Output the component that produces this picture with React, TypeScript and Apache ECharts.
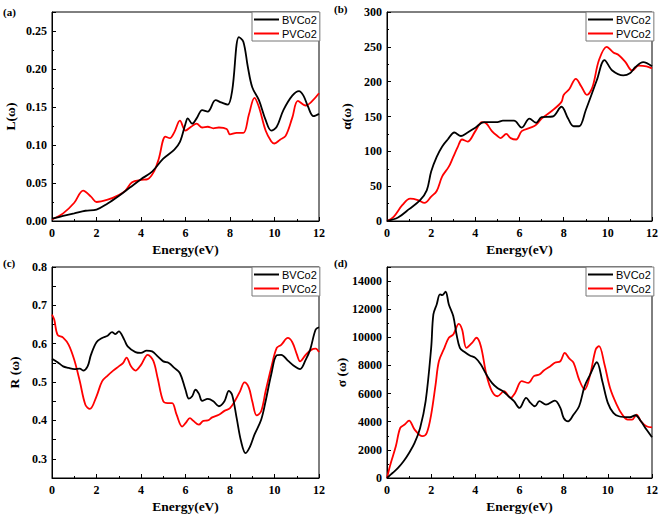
import React, { useEffect, useRef } from "react";
import * as echarts from "echarts";

const SERIES_NAMES = ["BVCo2", "PVCo2"];
const PANEL_LABELS = ["(a)", "(b)", "(c)", "(d)"];
const X_NAME = "Energy(eV)";
const Y_NAMES = ["L(ω)", "α(ω)", "R (ω)", "σ (ω)"];

// (a) energy loss L(ω)
const L_BVCo2 = [
  [0, 0.003], [0.5, 0.0066], [1, 0.01], [1.5, 0.0135], [2, 0.015], [2.5, 0.023], [3, 0.033],
  [3.5, 0.044], [4, 0.055], [4.5, 0.065], [5, 0.082], [5.5, 0.094], [5.75, 0.104], [6, 0.128],
  [6.1, 0.135], [6.3, 0.128], [6.5, 0.135], [6.75, 0.146], [7, 0.144], [7.35, 0.159], [7.6, 0.156],
  [7.9, 0.153], [8.1, 0.172], [8.4, 0.242], [8.6, 0.236], [8.8, 0.203], [9, 0.176], [9.3, 0.159],
  [9.6, 0.133], [9.85, 0.119], [10.1, 0.124], [10.4, 0.146], [10.8, 0.165], [11.1, 0.171],
  [11.3, 0.165], [11.5, 0.151], [11.75, 0.138], [12, 0.141],
];
const L_PVCo2 = [
  [0, 0.002], [0.5, 0.01], [1, 0.024], [1.4, 0.04], [1.75, 0.032], [2, 0.025], [2.5, 0.028],
  [3, 0.034], [3.3, 0.04], [3.6, 0.051], [4, 0.054], [4.3, 0.055], [4.6, 0.066], [4.8, 0.082],
  [5.1, 0.111], [5.3, 0.109], [5.5, 0.117], [5.75, 0.132], [6, 0.119], [6.25, 0.124], [6.5, 0.128],
  [6.75, 0.123], [7, 0.124], [7.25, 0.122], [7.5, 0.123], [7.85, 0.121], [8, 0.114], [8.3, 0.116],
  [8.6, 0.116], [8.85, 0.14], [9.1, 0.162], [9.3, 0.15], [9.6, 0.119], [9.85, 0.105], [10, 0.102],
  [10.25, 0.107], [10.5, 0.112], [10.8, 0.136], [11.05, 0.158], [11.4, 0.152], [11.7, 0.158],
  [12, 0.168],
];

// (b) absorption α(ω)
const A_BVCo2 = [
  [0, 0], [0.5, 5], [1, 17], [1.5, 30], [1.8, 44], [2, 71], [2.25, 92], [2.5, 107], [2.75, 117],
  [3.05, 127], [3.35, 122], [3.6, 126], [4, 134], [4.4, 142], [5, 142], [5.25, 144], [5.75, 144],
  [6.1, 134], [6.45, 147], [6.75, 141], [7, 149], [7.5, 150], [7.9, 164], [8.2, 147], [8.45, 136],
  [8.7, 136], [9, 159], [9.5, 202], [9.85, 231], [10.2, 216], [10.7, 209], [11, 212], [11.25, 221],
  [11.6, 228], [12, 222],
];
const A_PVCo2 = [
  [0, 0], [0.3, 6], [0.7, 23], [1.05, 32], [1.4, 30], [1.7, 26], [2, 35], [2.25, 43], [2.5, 64],
  [2.8, 78], [3, 92], [3.2, 106], [3.4, 117], [3.65, 114], [4, 129], [4.3, 142], [4.5, 140],
  [4.75, 129], [5, 122], [5.15, 119], [5.4, 125], [5.6, 119], [5.85, 117], [6.1, 129], [6.5, 134],
  [6.75, 138], [7, 147], [7.5, 159], [7.9, 171], [8, 181], [8.25, 189], [8.55, 204], [8.8, 193],
  [9.05, 181], [9.3, 192], [9.6, 231], [9.95, 250], [10.25, 242], [10.5, 238], [10.8, 228],
  [11.1, 216], [11.4, 223], [11.75, 222], [12, 219],
];

// (c) reflectivity R(ω)
const R_BVCo2 = [
  [0, 0.561], [0.25, 0.552], [0.5, 0.541], [0.75, 0.537], [1, 0.534], [1.25, 0.535], [1.4, 0.53],
  [1.6, 0.541], [1.75, 0.571], [2, 0.604], [2.25, 0.615], [2.5, 0.621], [2.7, 0.63], [2.85, 0.625],
  [3, 0.632], [3.25, 0.61], [3.4, 0.593], [3.75, 0.578], [4, 0.576], [4.25, 0.582], [4.5, 0.58],
  [4.75, 0.567], [5, 0.554], [5.25, 0.55], [5.5, 0.537], [5.75, 0.523], [6, 0.48], [6.15, 0.457],
  [6.3, 0.463], [6.45, 0.48], [6.6, 0.47], [6.75, 0.451], [7, 0.456], [7.25, 0.45], [7.5, 0.437],
  [7.75, 0.45], [7.95, 0.477], [8.1, 0.466], [8.3, 0.406], [8.5, 0.345], [8.7, 0.315], [8.9, 0.332],
  [9.1, 0.363], [9.4, 0.402], [9.6, 0.45], [9.85, 0.519], [10.1, 0.57], [10.3, 0.571], [10.6, 0.556],
  [10.9, 0.541], [11.15, 0.534], [11.4, 0.558], [11.6, 0.584], [11.85, 0.637], [12, 0.643],
];
const R_PVCo2 = [
  [0, 0.676], [0.1, 0.663], [0.25, 0.623], [0.5, 0.616], [0.75, 0.597], [1, 0.558], [1.25, 0.502],
  [1.5, 0.441], [1.7, 0.43], [2, 0.463], [2.25, 0.502], [2.5, 0.517], [2.75, 0.53], [3, 0.541],
  [3.2, 0.55], [3.35, 0.564], [3.55, 0.541], [3.75, 0.53], [4, 0.545], [4.3, 0.571], [4.55, 0.556],
  [4.75, 0.51], [5, 0.45], [5.2, 0.445], [5.4, 0.445], [5.6, 0.415], [5.85, 0.384], [6, 0.393],
  [6.2, 0.406], [6.35, 0.399], [6.6, 0.389], [6.8, 0.399], [7, 0.4], [7.2, 0.408], [7.5, 0.415],
  [7.75, 0.425], [8, 0.432], [8.25, 0.454], [8.45, 0.476], [8.65, 0.499], [8.85, 0.485], [9, 0.45],
  [9.2, 0.413], [9.4, 0.424], [9.6, 0.476], [9.85, 0.537], [10.1, 0.589], [10.3, 0.597],
  [10.6, 0.615], [10.8, 0.604], [11, 0.573], [11.15, 0.554], [11.4, 0.571], [11.65, 0.584],
  [11.85, 0.587], [12, 0.578],
];

// (d) conductivity σ(ω)
const S_BVCo2 = [
  [0, 0], [0.25, 356], [0.5, 712], [0.75, 1187], [1, 1780], [1.25, 2490], [1.5, 3560], [1.75, 5458],
  [2, 9255], [2.1, 11628], [2.25, 12340], [2.4, 13050], [2.5, 13000], [2.65, 13240], [2.8, 12340],
  [3, 11510], [3.15, 10200], [3.3, 9255], [3.5, 8970], [3.75, 8710], [4, 8540], [4.25, 8070],
  [4.5, 7355], [4.75, 6760], [5, 6400], [5.25, 6170], [5.5, 5810], [5.75, 5460], [6, 4980],
  [6.3, 5700], [6.5, 5340], [6.7, 5100], [6.9, 5460], [7.2, 5220], [7.6, 5500], [7.85, 4980],
  [8, 4270], [8.2, 4030], [8.45, 4510], [8.7, 5100], [8.95, 6530], [9.2, 7355], [9.5, 8230],
  [9.75, 6880], [10, 5340], [10.25, 4630], [10.5, 4390], [11, 4320], [11.25, 4460], [11.5, 4030],
  [11.75, 3440], [12, 2900],
];
const S_PVCo2 = [
  [0, 0], [0.15, 950], [0.4, 2250], [0.6, 3560], [0.8, 3800], [1, 4080], [1.25, 3440], [1.6, 2970],
  [1.8, 3200], [2, 4510], [2.2, 6640], [2.35, 8300], [2.6, 9255], [2.8, 9970], [3, 10200],
  [3.25, 10960], [3.4, 10560], [3.6, 9255], [3.85, 9610], [4.05, 9970], [4.25, 9370], [4.5, 7355],
  [4.75, 6170], [5, 5810], [5.3, 6170], [5.6, 5700], [5.8, 6050], [6.1, 6880], [6.4, 6760],
  [6.65, 7240], [6.9, 7355], [7.1, 7640], [7.4, 7950], [7.6, 8190], [7.85, 8300], [8.05, 8900],
  [8.25, 8500], [8.45, 8190], [8.7, 7000], [8.95, 6290], [9.2, 7355], [9.45, 9140], [9.6, 9370],
  [9.85, 8070], [10.1, 6400], [10.4, 5220], [10.65, 4510], [10.9, 4150], [11.1, 4150], [11.3, 4510],
  [11.5, 4030], [11.75, 3680], [12, 3600],
];

const PANEL_DATA = [
  [L_BVCo2, L_PVCo2],
  [A_BVCo2, A_PVCo2],
  [R_BVCo2, R_PVCo2],
  [S_BVCo2, S_PVCo2],
];
const COLORS = ["#000000", "#ff0000"];

const SERIF = "'Liberation Serif', 'Times New Roman', serif";
const SANS = "'Liberation Sans', Arial, sans-serif";

export default function App() {
  const ref = useRef<HTMLDivElement>(null);

  useEffect(() => {
    if (!ref.current) return;
    const chart = echarts.init(ref.current, null, { renderer: "svg" });

    const grids = [
      { left: 52, top: 12, width: 267, height: 209 },
      { left: 387, top: 12, width: 266, height: 209 },
      { left: 52, top: 267, width: 267, height: 211 },
      { left: 387, top: 267, width: 266, height: 211 },
    ];

    const yCfg = [
      {
        min: 0, max: 0.275, interval: 0.05, minor: true, gap: 35,
        fmt: (v: number) => (Math.abs(v * 20 - Math.round(v * 20)) < 1e-6 ? v.toFixed(2) : ""),
      },
      {
        min: 0, max: 300, interval: 50, minor: true, gap: 34,
        fmt: (v: number) => String(v),
      },
      {
        min: 0.25, max: 0.8, interval: 0.05, minor: false, gap: 31,
        fmt: (v: number) => (Math.round(v * 100) % 10 === 0 ? v.toFixed(1) : ""),
      },
      {
        min: 0, max: 15000, interval: 2000, minor: true, gap: 39,
        fmt: (v: number) => (v % 2000 === 0 ? String(v) : ""),
      },
    ];

    const labelStyle = {
      fontFamily: SERIF,
      fontWeight: "bold" as const,
      fontSize: 12,
      color: "#000",
    };
    const nameStyle = {
      fontFamily: SERIF,
      fontWeight: "bold" as const,
      fontSize: 13.5,
      color: "#000",
    };

    const xAxis = grids.map((_, i) => ({
      type: "value",
      gridIndex: i,
      min: 0,
      max: 12,
      interval: 2,
      name: X_NAME,
      nameLocation: "middle",
      nameGap: 21,
      nameTextStyle: nameStyle,
      axisLine: { show: true, lineStyle: { color: "#000", width: 1 } },
      axisTick: { show: true, inside: true, length: 4, lineStyle: { color: "#000" } },
      minorTick: { show: true, splitNumber: 2, length: 2, lineStyle: { color: "#000" } },
      splitLine: { show: false },
      axisLabel: { ...labelStyle, margin: 6 },
    }));

    const yAxis = grids.map((_, i) => ({
      type: "value",
      gridIndex: i,
      min: yCfg[i].min,
      max: yCfg[i].max,
      interval: yCfg[i].interval,
      name: Y_NAMES[i],
      nameLocation: "middle",
      nameGap: yCfg[i].gap,
      nameTextStyle: nameStyle,
      axisLine: { show: true, lineStyle: { color: "#000", width: 1 } },
      axisTick: { show: true, inside: true, length: 4, lineStyle: { color: "#000" } },
      minorTick: { show: yCfg[i].minor, splitNumber: 2, length: 2, lineStyle: { color: "#000" } },
      splitLine: { show: false },
      axisLabel: { ...labelStyle, margin: 5, formatter: yCfg[i].fmt },
    }));

    const series: any[] = [];
    PANEL_DATA.forEach((pair, i) => {
      pair.forEach((data, k) => {
        series.push({
          type: "line",
          name: SERIES_NAMES[k],
          xAxisIndex: i,
          yAxisIndex: i,
          data,
          smooth: 0.35,
          symbol: "none",
          lineStyle: { color: COLORS[k], width: 1.8 },
          itemStyle: { color: COLORS[k] },
          z: 3 - k,
        });
      });
    });

    const legends = grids.map((g) => ({
      data: SERIES_NAMES.map((n) => ({ name: n, icon: "rect" })),
      orient: "vertical",
      left: g.left + g.width - 67,
      top: g.top,
      width: 67,
      itemWidth: 25,
      itemHeight: 2,
      itemGap: 1,
      padding: [1, 3, 1, 2],
      borderColor: "#777",
      borderWidth: 1,
      backgroundColor: "#fff",
      selectedMode: false,
      textStyle: {
        fontFamily: SANS,
        fontSize: 11,
        color: "#000",
        lineHeight: 13,
        padding: [0, 0, 0, -2],
      },
    }));

    const labelPos = [
      { left: 3, top: 6 },
      { left: 334, top: 3 },
      { left: 3, top: 257 },
      { left: 334, top: 257 },
    ];
    const graphic = PANEL_LABELS.map((t, i) => ({
      type: "text",
      left: labelPos[i].left,
      top: labelPos[i].top,
      style: { text: t, font: `bold 11px ${SERIF}`, fill: "#000" },
    }));

    chart.setOption({
      animation: false,
      backgroundColor: "#fff",
      grid: grids.map((g) => ({
        ...g,
        show: true,
        borderColor: "#000",
        borderWidth: 1,
        backgroundColor: "transparent",
      })),
      xAxis,
      yAxis,
      legend: legends,
      series,
      graphic,
    });

    return () => chart.dispose();
  }, []);

  return (
    <div
      ref={ref}
      style={{ position: "fixed", left: 0, top: 0, width: 661, height: 518, background: "#fff" }}
    />
  );
}
